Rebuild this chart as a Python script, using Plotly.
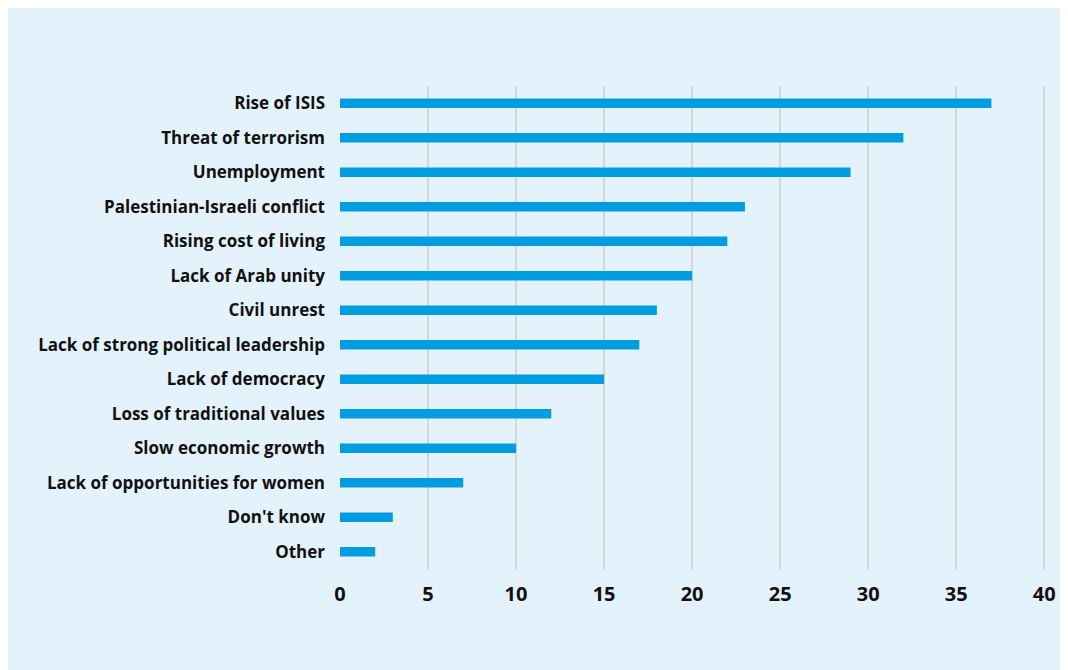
import plotly.graph_objects as go

categories = [
    "Rise of ISIS",
    "Threat of terrorism",
    "Unemployment",
    "Palestinian-Israeli conflict",
    "Rising cost of living",
    "Lack of Arab unity",
    "Civil unrest",
    "Lack of strong political leadership",
    "Lack of democracy",
    "Loss of traditional values",
    "Slow economic growth",
    "Lack of opportunities for women",
    "Don't know",
    "Other",
]
values = [37, 32, 29, 23, 22, 20, 18, 17, 15, 12, 10, 7, 3, 2]
x_ticks = [0, 5, 10, 15, 20, 25, 30, 35, 40]

BG = "#e4f3fb"
BAR = "#009ee0"
TXT = "#111111"
FONT = "Open Sans"

fig = go.Figure(
    go.Bar(
        x=values,
        y=categories,
        orientation="h",
        marker=dict(color=BAR, line=dict(width=0)),
        width=0.27,
    )
)

fig.update_layout(
    width=1068,
    height=662,
    paper_bgcolor=BG,
    plot_bgcolor=BG,
    margin=dict(l=332, r=30, t=78, b=101),
    font=dict(family=FONT, size=17, color=TXT, weight="bold"),
    showlegend=False,
)
fig.update_xaxes(
    range=[0, 40.1],
    tickvals=x_ticks,
    showgrid=True,
    gridcolor="#d4d6d8",
    gridwidth=1.5,
    zeroline=False,
    showline=False,
    ticklabelstandoff=11,
    tickfont=dict(family=FONT, size=20, color=TXT, weight="bold"),
)
fig.update_yaxes(
    categoryorder="array",
    categoryarray=categories[::-1],
    showgrid=False,
    zeroline=False,
    showline=False,
    ticklabelstandoff=14,
    tickfont=dict(family=FONT, size=17, color=TXT, weight="bold"),
)

fig.write_html("out.html")
